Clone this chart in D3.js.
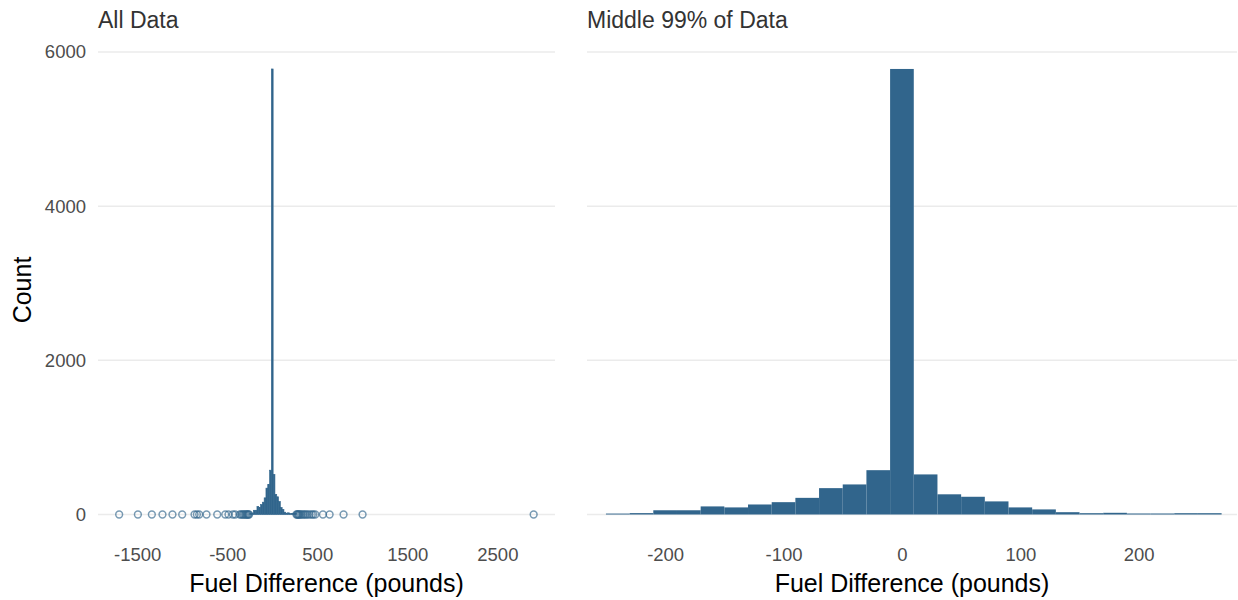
<!DOCTYPE html>
<html>
<head>
<meta charset="utf-8">
<script src="https://cdn.jsdelivr.net/npm/d3@7"></script>
<style>
  body { margin: 0; background: #fff; }
  svg { display: block; font-family: "Liberation Sans", Arial, sans-serif; }
</style>
</head>
<body>
<svg id="chart" width="1238" height="600"></svg>
<script>
// ---------- data ----------
const binLeft  = [-250,-230,-210,-190,-170,-150,-130,-110,-90,-70,-50,-30,-10,10,30,50,70,90,110,130,150,170,190,210,230,250];
const binRight = [-230,-210,-190,-170,-150,-130,-110,-90,-70,-50,-30,-10,10,30,50,70,90,110,130,150,170,190,210,230,250,270];
const binCount = [12,18,55,55,105,92,130,160,216,342,390,575,5780,520,262,230,170,92,66,30,17,22,13,13,17,17];
const outliers = [-1700,-1492,-1337,-1219,-1108,-1000,-863,-837,-811,-730,-611,-522,-486,-437,-411,
                  -360,-345,-330,-318,-305,-293,-282,-272,-264,-257,
                  268,276,284,292,300,312,326,342,358,374,392,414,438,456,478,563,637,792,1003,2903];
const yTicks = [0,2000,4000,6000];
const xTicksAll = [-1500,-500,500,1500,2500];
const xTicksMid = [-200,-100,0,100,200];
const panelTitles = ["All Data","Middle 99% of Data"];
const xTitle = "Fuel Difference (pounds)";
const yTitle = "Count";

// ---------- layout ----------
const svg = d3.select("#chart");
const barColor = "#31658c";
const y = d3.scaleLinear().domain([0,6000]).range([514.5,52]);
const panelBottom = 537;
const xAll = d3.scaleLinear().domain([-1935,3140]).range([98,555]);
const xMid = d3.scaleLinear().domain([-266,283]).range([587,1237]);
const bins = binCount.map((c,i)=>({x0:binLeft[i], x1:binRight[i], n:c}));

function grid(x){
  svg.append("g").selectAll("line").data(yTicks).join("line")
    .attr("x1", x.range()[0]).attr("x2", x.range()[1])
    .attr("y1", d=>y(d)).attr("y2", d=>y(d))
    .attr("stroke", "#ebebeb").attr("stroke-width", 1.5);
}
grid(xAll); grid(xMid);

// left histogram
svg.append("g").selectAll("rect").data(bins).join("rect")
  .attr("x", d=>xAll(d.x0)).attr("width", d=>xAll(d.x1)-xAll(d.x0))
  .attr("y", d=>y(d.n)).attr("height", d=>y(0)-y(d.n))
  .attr("fill", barColor).attr("stroke", barColor).attr("stroke-width", 0.6);

// outlier points
svg.append("g").selectAll("circle").data(outliers).join("circle")
  .attr("cx", d=>xAll(d)).attr("cy", y(0)).attr("r", 3.4)
  .attr("fill", "none").attr("stroke", barColor)
  .attr("stroke-opacity", 0.65).attr("stroke-width", 1.5);

// right histogram
svg.append("g").selectAll("rect").data(bins).join("rect")
  .attr("x", d=>xMid(d.x0)).attr("width", d=>xMid(d.x1)-xMid(d.x0))
  .attr("y", d=>y(d.n)).attr("height", d=>y(0)-y(d.n))
  .attr("fill", barColor);

// axes
function styleAxis(g){
  g.select(".domain").remove();
  g.selectAll(".tick line").remove();
  g.selectAll("text").attr("fill", "#4d4d4d").style("font-size", "18.5px");
}
svg.append("g").attr("transform", "translate(98,0)")
  .call(d3.axisLeft(y).tickValues(yTicks).tickFormat(d3.format("d")).tickSize(0).tickPadding(12))
  .call(styleAxis);
svg.append("g").attr("transform", `translate(0,${panelBottom})`)
  .call(d3.axisBottom(xAll).tickValues(xTicksAll).tickFormat(d3.format("d")).tickSize(0).tickPadding(10.5))
  .call(styleAxis);
svg.append("g").attr("transform", `translate(0,${panelBottom})`)
  .call(d3.axisBottom(xMid).tickValues(xTicksMid).tickFormat(d3.format("d")).tickSize(0).tickPadding(10.5))
  .call(styleAxis);
svg.selectAll(".tick text").text(function(){ return this.textContent.replace("\u2212","-"); });

// titles
svg.append("text").attr("x", 98).attr("y", 28).text(panelTitles[0])
  .attr("fill", "#333").style("font-size", "23px");
svg.append("text").attr("x", 587).attr("y", 28).text(panelTitles[1])
  .attr("fill", "#333").style("font-size", "23px");
[xAll, xMid].forEach(x=>{
  svg.append("text").attr("x", (x.range()[0]+x.range()[1])/2).attr("y", 592)
    .attr("text-anchor", "middle").text(xTitle)
    .attr("fill", "#000").style("font-size", "25px");
});
svg.append("text").attr("transform", "translate(31,290) rotate(-90)")
  .attr("text-anchor", "middle").text(yTitle)
  .attr("fill", "#000").style("font-size", "25px");
</script>
</body>
</html>
